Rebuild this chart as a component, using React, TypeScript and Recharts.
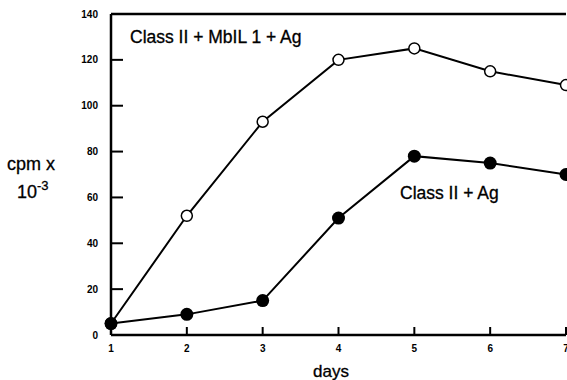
import React from 'react';
import { LineChart, Line, XAxis, YAxis, ReferenceLine } from 'recharts';

const days = [1, 2, 3, 4, 5, 6, 7];
const withMbil = [5, 52, 93, 120, 125, 115, 109];
const classAg = [5, 9, 15, 51, 78, 75, 70];
const yTicks = [0, 20, 40, 60, 80, 100, 120, 140];

const data = days.map((d, i) => ({ day: d, mbil: withMbil[i], ag: classAg[i] }));

const FONT = '"Liberation Sans", Arial, Helvetica, sans-serif';
const tickStyle = { fontSize: 10, fontWeight: 'bold', fill: '#000', fontFamily: FONT };

// absolutely placed html text over the chart
const label = (left: number, top: number, size: number, text: React.ReactNode) => (
  <div
    style={{
      position: 'absolute',
      left,
      top,
      fontSize: size,
      fontFamily: FONT,
      color: '#000',
      lineHeight: 1,
      whiteSpace: 'nowrap',
      WebkitTextStroke: '0.3px #000',
    }}
  >
    {text}
  </div>
);

export default function App() {
  return (
    <div style={{ position: 'absolute', left: 0, top: 0, width: 567, height: 380, overflow: 'hidden', background: '#fff' }}>
      <LineChart width={600} height={380} data={data} margin={{ top: 14, right: 34, bottom: 0, left: 0 }}>
        <XAxis
          dataKey="day"
          type="number"
          domain={[1, 7]}
          ticks={days}
          height={45}
          tickSize={-8}
          tickMargin={18}
          tickLine={{ stroke: '#000', strokeWidth: 2 }}
          axisLine={{ stroke: '#000', strokeWidth: 2.5 }}
          tick={tickStyle}
        />
        <YAxis
          type="number"
          domain={[0, 140]}
          ticks={yTicks}
          width={111}
          tickSize={-12}
          tickMargin={25}
          tickLine={{ stroke: '#000', strokeWidth: 2 }}
          axisLine={{ stroke: '#000', strokeWidth: 2.5 }}
          tick={tickStyle}
        />
        <ReferenceLine y={140} stroke="#000" strokeWidth={2.5} />
        <Line
          dataKey="mbil"
          stroke="#000"
          strokeWidth={2}
          isAnimationActive={false}
          dot={{ r: 5.5, fill: '#fff', stroke: '#000', strokeWidth: 1.5 }}
        />
        <Line
          dataKey="ag"
          stroke="#000"
          strokeWidth={2}
          isAnimationActive={false}
          dot={{ r: 6.5, fill: '#000', stroke: '#000', strokeWidth: 0 }}
        />
      </LineChart>
      {label(130, 29, 17.5, 'Class II + MbIL 1 + Ag')}
      {label(400, 185, 17.5, 'Class II + Ag')}
      {label(7, 155, 18, 'cpm x')}
      {label(
        17,
        183,
        18,
        <span>
          10<span style={{ fontSize: 13, position: 'relative', top: -8 }}>-3</span>
        </span>
      )}
      {label(313, 363, 17, 'days')}
    </div>
  );
}
